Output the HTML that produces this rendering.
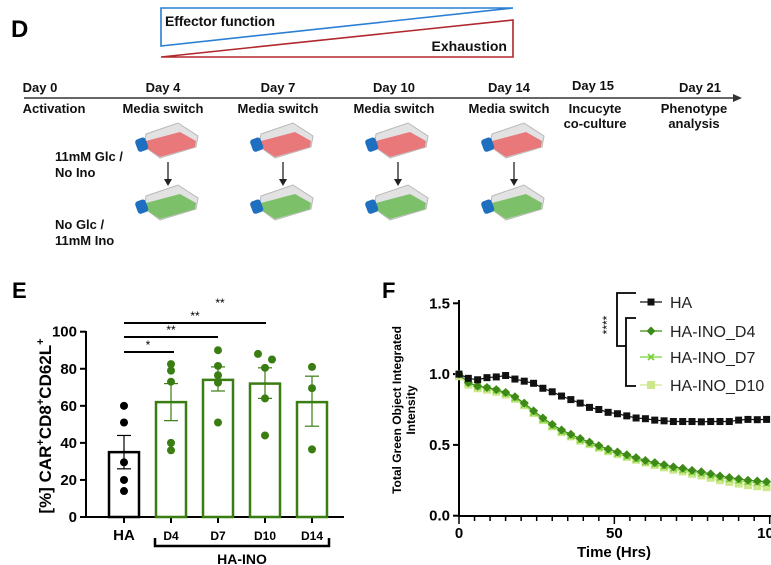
<!DOCTYPE html>
<html><head><meta charset="utf-8"><style>
html,body{margin:0;padding:0;background:#fff}
svg{display:block;font-family:"Liberation Sans",sans-serif;font-weight:bold}
</style></head><body>
<svg id="s" width="771" height="565" viewBox="0 0 771 565" xmlns="http://www.w3.org/2000/svg">
<!-- Panel D -->
<text x="11" y="37" font-size="24" fill="#000">D</text>
<path d="M161,8 L513,8 L161,46 Z" fill="none" stroke="#2a7fd4" stroke-width="1.6"/>
<path d="M161,57 L513,20 L513,57 Z" fill="none" stroke="#b0282c" stroke-width="1.6"/>
<text x="165" y="26" font-size="14" fill="#111" textLength="110">Effector function</text>
<text x="507" y="51" font-size="14" fill="#111" text-anchor="end">Exhaustion</text>
<line x1="24" y1="98" x2="735" y2="98" stroke="#333" stroke-width="1.5"/>
<path d="M733,94 L742,98 L733,102 Z" fill="#333"/>
<g font-size="13" fill="#111" text-anchor="middle">
<text x="40" y="92">Day 0</text>
<text x="163" y="92">Day 4</text>
<text x="278" y="92">Day 7</text>
<text x="394" y="92">Day 10</text>
<text x="509" y="92">Day 14</text>
<text x="593" y="90">Day 15</text>
<text x="700" y="92">Day 21</text>
<text x="54" y="113">Activation</text>
<text x="163" y="113">Media switch</text>
<text x="278" y="113">Media switch</text>
<text x="394" y="113">Media switch</text>
<text x="509" y="113">Media switch</text>
<text x="595" y="113">Incucyte</text>
<text x="595" y="128">co-culture</text>
<text x="694" y="113">Phenotype</text>
<text x="694" y="128">analysis</text>
</g>
<g font-size="13" fill="#111">
<text x="55" y="161">11mM Glc /</text>
<text x="55" y="177">No Ino</text>
<text x="55" y="229">No Glc /</text>
<text x="55" y="245">11mM Ino</text>
</g>
<g id="flasks"></g>
<!-- Panel E -->
<text x="12" y="298" font-size="22" fill="#000">E</text>
<g id="E"></g>
<!-- Panel F -->
<text x="382" y="298" font-size="22" fill="#000">F</text>
<g id="F"></g>
</svg>
<script>
var NS="http://www.w3.org/2000/svg";
function el(p,t,a,txt){var e=document.createElementNS(NS,t);for(var k in a)e.setAttribute(k,a[k]);if(txt!=null)e.textContent=txt;p.appendChild(e);return e;}
// flasks
var fl=document.getElementById('flasks');
[168,283,398,514].forEach(function(cx){
 [[142,'#e8787a'],[204,'#7cc06a']].forEach(function(r){
  var cy=r[0];
  el(fl,'path',{d:'M'+(cx-22)+','+(cy-8)+' L'+(cx+10)+','+(cy-19)+' L'+(cx+30)+','+(cy-6)+' L'+(cx+28)+','+(cy+5)+' L'+(cx-8)+','+(cy+16)+' L'+(cx-24)+','+(cy+4)+' Z',fill:'#e2e2e2',stroke:'#b8b8b8','stroke-width':1});
  el(fl,'path',{d:'M'+(cx-22)+','+(cy-1)+' L'+(cx+12)+','+(cy-10)+' L'+(cx+28)+','+(cy-1)+' L'+(cx+27)+','+(cy+5)+' L'+(cx-8)+','+(cy+15)+' L'+(cx-23)+','+(cy+5)+' Z',fill:r[1]});
  el(fl,'rect',{x:cx-32,y:cy-4,width:11,height:13,rx:3,fill:'#1f6fc0',transform:'rotate(-20 '+(cx-26)+' '+(cy+2)+')'});
 });
 el(fl,'line',{x1:cx,y1:162,x2:cx,y2:180,stroke:'#222','stroke-width':1.3});
 el(fl,'path',{d:'M'+(cx-4)+',179 L'+(cx+4)+',179 L'+cx+',186 Z',fill:'#222'});
});
// Panel E
var E=document.getElementById('E');
function ey(v){return 517-v*1.853;}
el(E,'line',{x1:86,y1:331,x2:86,y2:518,stroke:'#000','stroke-width':2});
el(E,'line',{x1:85,y1:517,x2:344,y2:517,stroke:'#000','stroke-width':2});
[0,20,40,60,80,100].forEach(function(v){
 el(E,'line',{x1:80,y1:ey(v),x2:86,y2:ey(v),stroke:'#000','stroke-width':2});
 el(E,'text',{x:77,y:ey(v)+5,'font-size':15,'text-anchor':'end'},String(v));
});
var G='#3a7d12';
var bars=[[124,35,26,44,'#000',[[0,60],[0,51],[0,29.5],[0,20],[0,14]]],
[171,62,52,72,G,[[0,82.5],[0,79],[0,73],[0,40],[0,36]]],
[218,74,68,81,G,[[0,90],[0,81.5],[0,76.5],[0,72.5],[0,51]]],
[265,72,64,80.5,G,[[-7,88],[7,85],[0,80.5],[0,64],[0,44]]],
[312,62,49,76,G,[[0,81],[0,69.5],[0,36.5]]]];
bars.forEach(function(b,i){
 var x=b[0];
 el(E,'line',{x1:x,y1:517,x2:x,y2:523,stroke:'#000','stroke-width':2});
 el(E,'rect',{x:x-15,y:ey(b[1]),width:30,height:517-ey(b[1]),fill:'none',stroke:b[4],'stroke-width':2.5});
 el(E,'line',{x1:x,y1:ey(b[2]),x2:x,y2:ey(b[3]),stroke:b[4],'stroke-width':1.2});
 el(E,'line',{x1:x-7,y1:ey(b[2]),x2:x+7,y2:ey(b[2]),stroke:b[4],'stroke-width':1.2});
 el(E,'line',{x1:x-7,y1:ey(b[3]),x2:x+7,y2:ey(b[3]),stroke:b[4],'stroke-width':1.2});
 b[5].forEach(function(p){el(E,'circle',{cx:x+p[0],cy:ey(p[1]),r:4,fill:b[4]});});
 el(E,'text',{x:x,y:540,'font-size':i==0?15:12,'text-anchor':'middle'},['HA','D4','D7','D10','D14'][i]);
});
[[352,174,148,'*'],[337,218,171,'**'],[323,266,195,'**']].forEach(function(s){
 el(E,'line',{x1:124,y1:s[0],x2:s[1],y2:s[0],stroke:'#000','stroke-width':2});
 el(E,'text',{x:s[2],y:s[0]-3,'font-size':12,'text-anchor':'middle','font-weight':'normal'},s[3]);
});
el(E,'text',{x:220,y:307,'font-size':12,'text-anchor':'middle','font-weight':'normal'},'**');
el(E,'path',{d:'M155,538 L155,546 L329,546 L329,538',fill:'none',stroke:'#000','stroke-width':2.5});
el(E,'text',{x:242,y:564,'font-size':14,'text-anchor':'middle'},'HA-INO');
var yl=el(E,'text',{transform:'translate(51,426) rotate(-90)','font-size':17,'text-anchor':'middle'});
yl.innerHTML='[%] CAR<tspan dy="-7" font-size="11">+</tspan><tspan dy="7">CD8</tspan><tspan dy="-7" font-size="11">+</tspan><tspan dy="7">CD62L</tspan><tspan dy="-7" font-size="11">+</tspan>';
// Panel F
var F=document.getElementById('F');
function fx(t){return 459+t*3.107;} function fy(v){return 515.7-v*141.6;}
el(F,'line',{x1:459,y1:300,x2:459,y2:517,stroke:'#000','stroke-width':2});
el(F,'line',{x1:458,y1:516,x2:771,y2:516,stroke:'#000','stroke-width':2});
['0.0','0.5','1.0','1.5'].forEach(function(s,i){
 el(F,'line',{x1:453,y1:fy(i*.5),x2:459,y2:fy(i*.5),stroke:'#000','stroke-width':2});
 el(F,'text',{x:450,y:fy(i*.5)+5,'font-size':15,'text-anchor':'end'},s);
});
for(var t=0;t<=100;t+=5){var L=(t%50==0)?8:5;el(F,'line',{x1:fx(t),y1:516,x2:fx(t),y2:516+L,stroke:'#000','stroke-width':1.5});}
el(F,'text',{x:fx(0),y:538,'font-size':15,'text-anchor':'middle'},'0');
el(F,'text',{x:fx(50),y:538,'font-size':15,'text-anchor':'middle'},'50');
el(F,'text',{x:fx(100),y:538,'font-size':15,'text-anchor':'middle'},'100');
el(F,'text',{x:614,y:557,'font-size':15,'text-anchor':'middle'},'Time (Hrs)');
el(F,'text',{transform:'translate(401,410) rotate(-90)','font-size':12,'text-anchor':'middle'},'Total Green Object Integrated');
el(F,'text',{transform:'translate(415,410) rotate(-90)','font-size':12,'text-anchor':'middle'},'Intensity');
var HA=[1,.97,.96,.975,.98,.99,.965,.95,.935,.9,.875,.845,.82,.795,.765,.75,.73,.72,.705,.69,.685,.675,.67,.665,.665,.665,.663,.665,.665,.665,.675,.68,.678,.68];
var D4=[1,.94,.915,.905,.89,.87,.84,.795,.74,.69,.645,.605,.575,.545,.52,.495,.47,.45,.43,.41,.39,.375,.36,.345,.335,.32,.31,.295,.28,.27,.26,.25,.245,.24];
function series(arr,off,col,mk,lw){
 var pts=arr.map(function(v,i){var o=i==0?0:off*Math.min(1,i/8);return [fx(i*3),fy(v+o)];});
 el(F,'polyline',{points:pts.map(function(p){return p.join(',')}).join(' '),fill:'none',stroke:col,'stroke-width':lw});
 pts.forEach(function(p){marker(p[0],p[1],mk,col);});
}
function marker(x,y,mk,col){
 if(mk=='sq')el(F,'rect',{x:x-3.5,y:y-3.5,width:7,height:7,fill:col});
 else if(mk=='dia')el(F,'path',{d:'M'+x+','+(y-4.5)+' L'+(x+4.5)+','+y+' L'+x+','+(y+4.5)+' L'+(x-4.5)+','+y+' Z',fill:col});
 else if(mk=='x'){el(F,'path',{d:'M'+(x-3)+','+(y-3)+' L'+(x+3)+','+(y+3)+' M'+(x+3)+','+(y-3)+' L'+(x-3)+','+(y+3),stroke:col,'stroke-width':1.8});}
 else el(F,'rect',{x:x-4,y:y-4,width:8,height:8,fill:col});
}
var D10=D4.map(function(v,i){return v-0.015-(i>20?(i-20)*0.0018:0);});
series(D10,0,'#cde88c','lsq',1);
series(D4,-0.012,'#77d23a','x',1);
series(D4,0,'#3d8a18','dia',1.2);
series(HA,0,'#111','sq',1.2);
[[302,'HA','#111','sq'],[331,'HA-INO_D4','#3d8a18','dia'],[357,'HA-INO_D7','#77d23a','x'],[385,'HA-INO_D10','#cde88c','lsq']].forEach(function(l){
 el(F,'line',{x1:640,y1:l[0],x2:662,y2:l[0],stroke:l[2],'stroke-width':1.2});
 marker(651,l[0],l[3],l[2]);
 el(F,'text',{x:670,y:l[0]+6,'font-size':16,'font-weight':'normal',fill:'#222'},l[1]);
});
el(F,'path',{d:'M636,293 L617,293 L617,346 L626,346',fill:'none',stroke:'#000','stroke-width':1.8});
el(F,'path',{d:'M636,318 L626,318 L626,386 L636,386',fill:'none',stroke:'#000','stroke-width':1.8});
el(F,'text',{transform:'translate(611,325) rotate(-90)','font-size':12,'text-anchor':'middle','font-weight':'normal'},'****');
</script>
</body></html>
